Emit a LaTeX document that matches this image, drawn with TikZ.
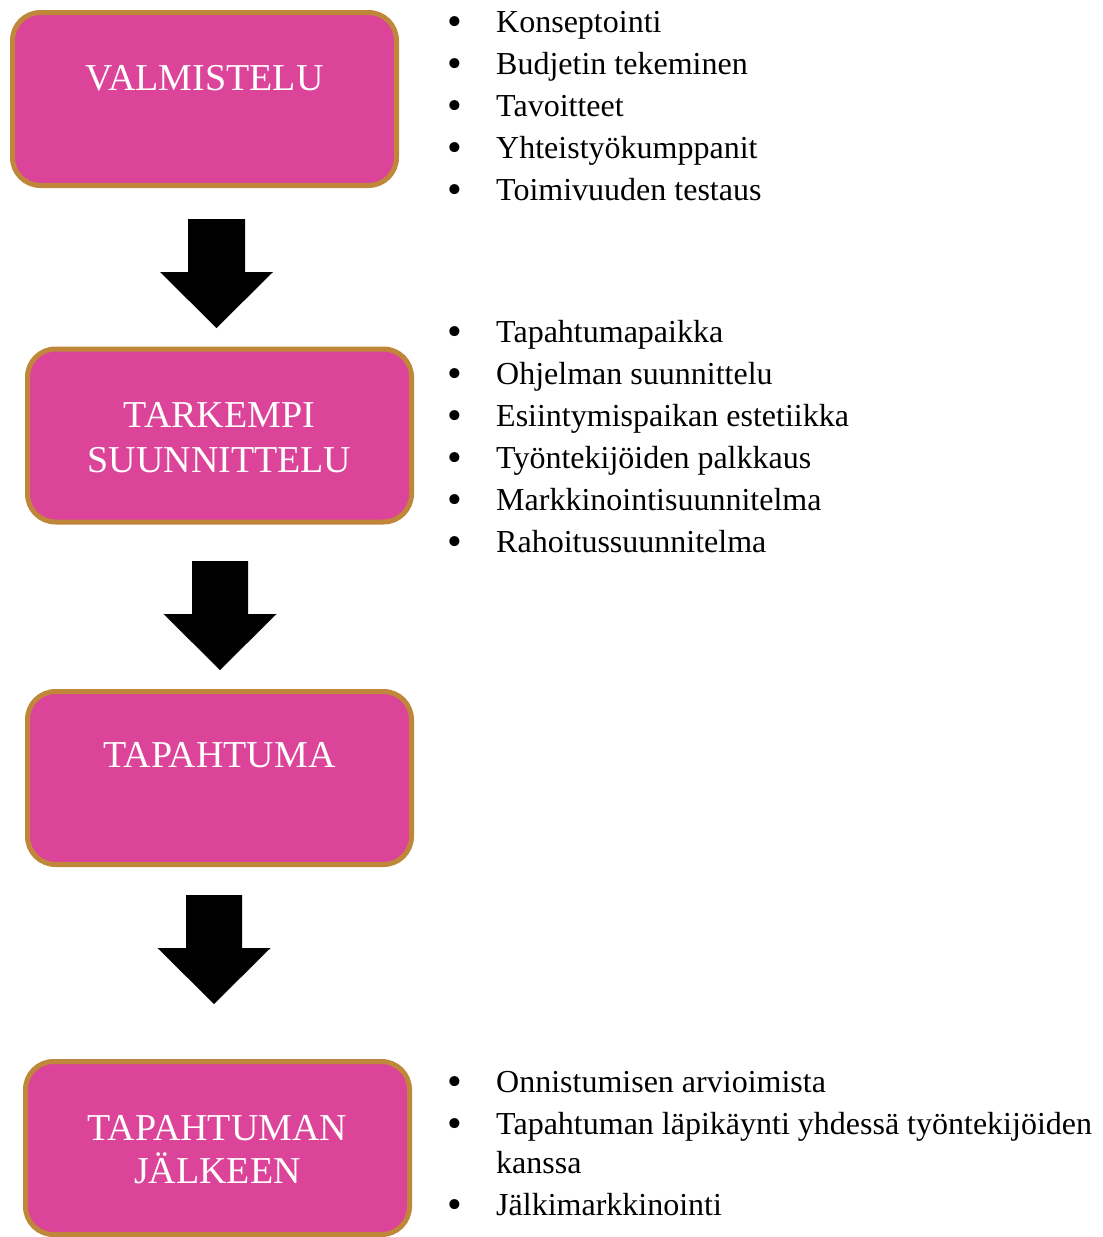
\documentclass[tikz,border=0pt]{standalone}
\usepackage{fontspec}
\setmainfont{Liberation Serif}
\definecolor{boxfill}{HTML}{DB4499}
\definecolor{boxedge}{HTML}{C0873A}
\newcommand\blkarrow[3]{% center x, top y, shaft half-width
  \fill[black] (#1-#3,#2) -- (#1+#3,#2) -- (#1+#3,#2+53) -- (#1+56.5,#2+53)
    -- (#1,#2+109) -- (#1-56.5,#2+53) -- (#1-#3,#2+53) -- cycle;}
\begin{document}
\begin{tikzpicture}[x=1pt,y=-1pt,
  stagebox/.style={draw=boxedge, line width=5pt, fill=boxfill, rounded corners=28pt,
    minimum width=384pt, minimum height=173pt, inner sep=0pt, outer sep=0pt},
  stagetext/.style={text=white, font=\fontsize{38}{45}\selectfont, anchor=base, inner sep=0pt},
  bul/.style={font=\fontsize{42}{42}\selectfont, anchor=base, inner sep=0pt,
    text height=20pt, text depth=0pt},
  item/.style={font=\fontsize{32}{42}\selectfont, anchor=base west, inner sep=0pt}]
\useasboundingbox (0,0) rectangle (1103,1237);
% stage boxes
\node[stagebox] (b1) at (204.5,99) {};
\node[stagebox] (b2) at (219.5,435.5) {};
\node[stagebox] (b3) at (219.5,778) {};
\node[stagebox] (b4) at (217.5,1148) {};
\node[stagetext] (t1) at (204.5,90) {VALMISTELU};
\node[stagetext] (t2a) at (219.5,427) {TARKEMPI};
\node[stagetext] (t2b) at (219.5,472) {SUUNNITTELU};
\node[stagetext] (t3) at (219.5,767) {TAPAHTUMA};
\node[stagetext] (t4a) at (217.5,1140) {TAPAHTUMAN};
\node[stagetext] (t4b) at (217.5,1183) {JÄLKEEN};
% block arrows
\blkarrow{216.5}{219}{28.5}
\blkarrow{220}{561}{28}
\blkarrow{214}{895}{28}
% list 1
\foreach \y/\t [count=\i] in {32/Konseptointi, 74/Budjetin tekeminen, 116/Tavoitteet,
  158/Yhteistyökumppanit, 200/Toimivuuden testaus}{
  \node[bul] (pa\i) at (455,\y+3) {•};
  \node[item] (la\i) at (496,\y) {\t};
}
% list 2
\foreach \y/\t [count=\i] in {342/Tapahtumapaikka, 384/Ohjelman suunnittelu,
  426/Esiintymispaikan estetiikka, 468/Työntekijöiden palkkaus,
  510/Markkinointisuunnitelma, 552/Rahoitussuunnitelma}{
  \node[bul] (pb\i) at (455,\y+3) {•};
  \node[item] (lb\i) at (496,\y) {\t};
}
% list 3
\node[bul] (pc1) at (455,1095) {•};
\node[item] (lc1) at (496,1092) {Onnistumisen arvioimista};
\node[bul] (pc2) at (455,1137) {•};
\node[item] (lc2) at (496,1134) {Tapahtuman läpikäynti yhdessä työntekijöiden};
\node[item] (lc2b) at (496,1173) {kanssa};
\node[bul] (pc3) at (455,1218) {•};
\node[item] (lc3) at (496,1215) {Jälkimarkkinointi};
\end{tikzpicture}
\end{document}
